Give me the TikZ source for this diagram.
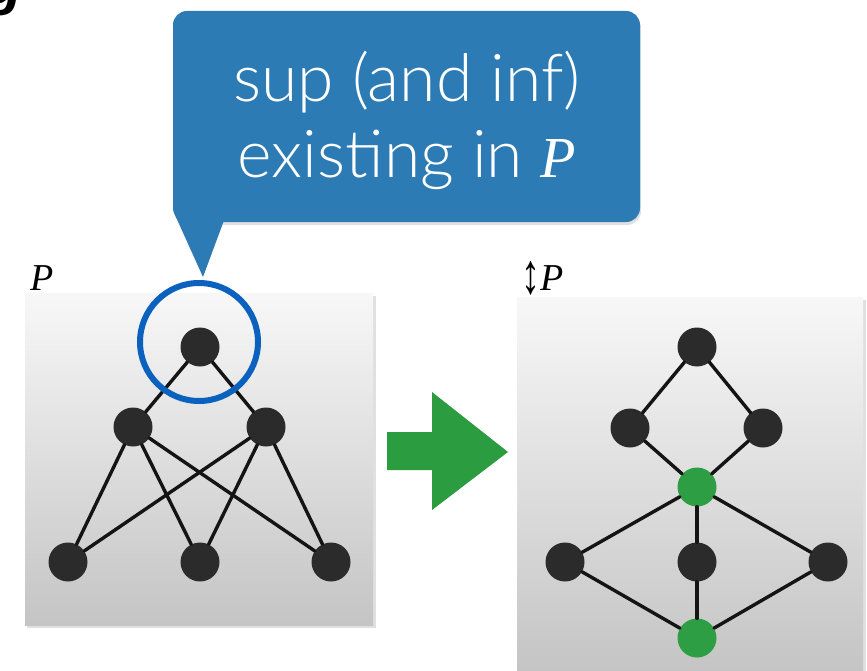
\documentclass[tikz,border=0pt]{standalone}
\usepackage{fontspec}
\setmainfont{Liberation Serif}
\newfontfamily\calloutfont{Lato Light}
\newfontfamily\headfont{Liberation Sans}
\definecolor{callblue}{RGB}{45,123,180}
\definecolor{ringblue}{RGB}{10,98,190}
\definecolor{dotgray}{RGB}{43,43,43}
\definecolor{latticegreen}{RGB}{46,158,68}
\definecolor{arrowgreen}{RGB}{44,156,64}
\begin{document}
\begin{tikzpicture}[x=1pt,y=-1pt,
  panelbox/.style={top color=white!97!black, bottom color=black!23},
  panelshadow/.style={fill=black!12},
  dot/.style={circle, fill=dotgray, minimum size=39pt, inner sep=0pt},
  gdot/.style={dot, fill=latticegreen},
  edge/.style={line width=3.4pt, black!92, line cap=round},
  calltext/.style={text=white, font=\calloutfont\fontsize{66}{70}\selectfont, anchor=base},
  panellabel/.style={font=\itshape\fontsize{38}{40}\selectfont, anchor=base west, inner sep=0pt}]
\useasboundingbox (0,0) rectangle (867,671);

% clipped heading glyph at the top-left corner
\node[font=\headfont\itshape\bfseries\fontsize{60}{60}\selectfont, anchor=base west, inner sep=0pt] (head) at (-14,4) {g};

% callout bubble
\fill[black!12, rounded corners=14pt] (174,14) rectangle (641,225);
\fill[callblue, rounded corners=14pt] (173,11) rectangle (640,222);
\fill[callblue] (175,215) -- (226,215) -- (203,277) -- cycle;
\node[calltext] (l1) at (407,102) {sup (and inf)};
\node[calltext] (l2) at (407,178) {existing in {\rmfamily\itshape\fontsize{58}{60}\selectfont P}};

% left panel: P
\fill[panelshadow] (27,296) rectangle (376,628);
\shade[panelbox] (25,293) rectangle (373,625);
\node[panellabel] (lp) at (30,290) {P};

\node[dot] (a) at (200,347) {};
\node[dot] (b) at (133,427) {};
\node[dot] (c) at (266,427) {};
\node[dot] (d) at (68,562) {};
\node[dot] (e) at (200,562) {};
\node[dot] (f) at (331,562) {};
\draw[edge] (a) -- (b);
\draw[edge] (a) -- (c);
\draw[edge] (b) -- (d);
\draw[edge] (b) -- (e);
\draw[edge] (b) -- (f);
\draw[edge] (c) -- (d);
\draw[edge] (c) -- (e);
\draw[edge] (c) -- (f);
\node[draw=ringblue, line width=6pt, circle, minimum size=118pt, inner sep=0pt] (ring) at (199,342) {};

% arrow between panels
\fill[arrowgreen] (387,432) -- (432,432) -- (432,392) -- (508,452) -- (432,510) -- (432,470) -- (387,470) -- cycle;

% right panel: completion
\fill[panelshadow] (519,300) rectangle (866,674);
\shade[panelbox] (517,297) rectangle (863,671);
\node[panellabel] (rp) at (521,290) {\raisebox{-3pt}{\scalebox{1}[1.5]{↕}}P};

\node[dot] (ra) at (697,347) {};
\node[dot] (rb) at (630,428) {};
\node[dot] (rc) at (763,428) {};
\node[gdot] (rg) at (697,487) {};
\node[dot] (rd) at (565,562) {};
\node[dot] (re) at (697,562) {};
\node[dot] (rf) at (828,562) {};
\node[gdot] (rh) at (697,638) {};
\draw[edge] (ra) -- (rb);
\draw[edge] (ra) -- (rc);
\draw[edge] (rb) -- (rg);
\draw[edge] (rc) -- (rg);
\draw[edge] (rg) -- (rd);
\draw[edge] (rg) -- (re);
\draw[edge] (rg) -- (rf);
\draw[edge] (rd) -- (rh);
\draw[edge] (re) -- (rh);
\draw[edge] (rf) -- (rh);
\end{tikzpicture}
\end{document}
